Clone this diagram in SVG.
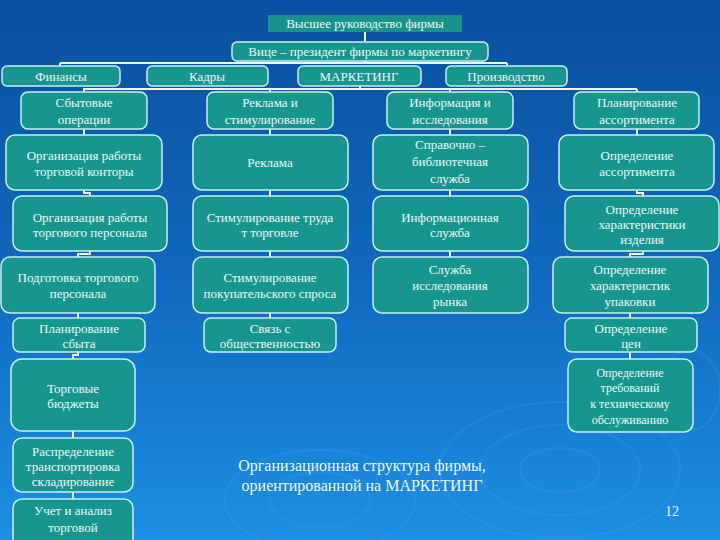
<svg xmlns="http://www.w3.org/2000/svg" width="720" height="540" viewBox="0 0 720 540">
<defs>
<linearGradient id="bg" x1="0" y1="0" x2="0" y2="1">
<stop offset="0" stop-color="#0b4f9f"/>
<stop offset="0.5" stop-color="#1068bd"/>
<stop offset="1" stop-color="#1c90e4"/>
</linearGradient>
<style>
.b{fill:#17958f;stroke:#c8eef2;stroke-width:1.5}
.t{font-family:"Liberation Serif","DejaVu Serif",serif;font-size:13px;fill:#eef8f8;text-anchor:middle}
.s{font-size:12px}
.c{fill:none;stroke:#f2f6fa;stroke-width:2}
.r{fill:none;stroke:#4aa6ea;stroke-width:2;opacity:0.2}
</style>
</defs>
<rect width="720" height="540" fill="url(#bg)"/>
<g id="ripples">
<ellipse class="r" cx="560" cy="470" rx="40" ry="22"/>
<ellipse class="r" cx="560" cy="470" rx="80" ry="45"/>
<ellipse class="r" cx="560" cy="470" rx="120" ry="68"/>
<ellipse class="r" cx="320" cy="500" rx="50" ry="28"/>
<ellipse class="r" cx="320" cy="500" rx="95" ry="50"/>
<ellipse class="r" cx="690" cy="390" rx="30" ry="40"/>
</g>
<g id="connectors">
<path class="c" d="M365 32V63M60 63H507M60 63V66M507 63V66M360 86V89M83 89H637"/>
<path class="c" d="M84 89V92M84 129V135M84 190V193H90V196M90 251V254H78V257M78 313V318M78 352V355H73V359M73 431V438M73 492V499"/>
<path class="c" d="M270 89V92M270 129V135M270 190V196M270 251V257M270 313V318"/>
<path class="c" d="M450 89V92M450 129V135M450 190V196M450 251V257"/>
<path class="c" d="M637 89V92M637 129V135M637 190V193H643V196M643 251V254H630V257M630 313V318M630 352V359"/>
</g>
<g id="top"><rect x="268" y="15" width="194" height="17" fill="#17928c"/><text class="t" x="365" y="28">Высшее руководство фирмы</text></g>
<g id="vp"><rect class="b" x="232" y="42" width="256" height="19" rx="5"/><text class="t" x="360" y="56">Вице – президент фирмы по маркетингу</text></g>
<g id="fin"><rect class="b" x="2" y="66" width="118" height="20" rx="5"/><text class="t" x="61" y="81">Финансы</text></g>
<g id="kadry"><rect class="b" x="147" y="66" width="121" height="20" rx="5"/><text class="t" x="207" y="81">Кадры</text></g>
<g id="mkt"><rect class="b" x="298" y="66" width="123" height="20" rx="5"/><text class="t" x="359" y="81">МАРКЕТИНГ</text></g>
<g id="prod"><rect class="b" x="446" y="66" width="121" height="20" rx="5"/><text class="t" x="506" y="81">Производство</text></g>

<g id="sbyt"><rect class="b" x="21" y="92" width="126" height="37" rx="7"/><text class="t" x="84" y="107">Сбытовые</text><text class="t" x="84" y="124">операции</text></g>
<g id="rekl-st"><rect class="b" x="207" y="92" width="126" height="37" rx="7"/><text class="t" x="270" y="107">Реклама и</text><text class="t" x="270" y="124">стимулирование</text></g>
<g id="info-res"><rect class="b" x="387" y="92" width="126" height="37" rx="7"/><text class="t" x="450" y="107">Информация и</text><text class="t" x="450" y="124">исследования</text></g>
<g id="plan-as"><rect class="b" x="574" y="92" width="125" height="37" rx="7"/><text class="t" x="637" y="107">Планирование</text><text class="t" x="637" y="124">ассортимента</text></g>

<g id="org-kont"><rect class="b" x="6" y="135" width="156" height="55" rx="9"/><text class="t" x="84" y="160">Организация работы</text><text class="t" x="84" y="176">торговой конторы</text></g>
<g id="rekl"><rect class="b" x="193" y="135" width="155" height="55" rx="9"/><text class="t" x="270" y="167">Реклама</text></g>
<g id="sprav"><rect class="b" x="373" y="135" width="155" height="55" rx="9"/><text class="t" x="450" y="149">Справочно –</text><text class="t" x="450" y="166">библиотечная</text><text class="t" x="450" y="183">служба</text></g>
<g id="opr-as"><rect class="b" x="559" y="135" width="155" height="55" rx="9"/><text class="t" x="637" y="160">Определение</text><text class="t" x="637" y="176">ассортимента</text></g>

<g id="org-pers"><rect class="b" x="13" y="196" width="154" height="55" rx="9"/><text class="t" x="90" y="222">Организация работы</text><text class="t" x="90" y="237">торгового персонала</text></g>
<g id="stim-tr"><rect class="b" x="193" y="196" width="155" height="55" rx="9"/><text class="t" x="270" y="222">Стимулирование труда</text><text class="t" x="270" y="237">т торговле</text></g>
<g id="info-sl"><rect class="b" x="373" y="196" width="155" height="55" rx="9"/><text class="t" x="450" y="222">Информационная</text><text class="t" x="450" y="237">служба</text></g>
<g id="har-izd"><rect class="b" x="565" y="196" width="154" height="55" rx="9"/><text class="t" x="642" y="214">Определение</text><text class="t" x="642" y="229">характеристики</text><text class="t" x="642" y="244">изделия</text></g>

<g id="podg"><rect class="b" x="1" y="257" width="154" height="56" rx="9"/><text class="t" x="78" y="282">Подготовка торгового</text><text class="t" x="78" y="298">персонала</text></g>
<g id="stim-sp"><rect class="b" x="193" y="257" width="155" height="56" rx="9"/><text class="t" x="270" y="282">Стимулирование</text><text class="t" x="270" y="298">покупательского спроса</text></g>
<g id="sl-isl"><rect class="b" x="373" y="257" width="155" height="56" rx="9"/><text class="t" x="450" y="274">Служба</text><text class="t" x="450" y="290">исследования</text><text class="t" x="450" y="306">рынка</text></g>
<g id="har-up"><rect class="b" x="553" y="257" width="155" height="56" rx="9"/><text class="t" x="630" y="274">Определение</text><text class="t" x="630" y="290">характеристик</text><text class="t" x="630" y="306">упаковки</text></g>

<g id="plan-sb"><rect class="b" x="13" y="318" width="132" height="34" rx="7"/><text class="t" x="79" y="333">Планирование</text><text class="t" x="79" y="348">сбыта</text></g>
<g id="svyaz"><rect class="b" x="204" y="318" width="132" height="34" rx="7"/><text class="t" x="270" y="333">Связь с</text><text class="t" x="270" y="348">общественностью</text></g>
<g id="ceny"><rect class="b" x="565" y="318" width="132" height="34" rx="7"/><text class="t" x="631" y="333">Определение</text><text class="t" x="631" y="348">цен</text></g>

<g id="budg"><rect class="b" x="11" y="359" width="124" height="72" rx="11"/><text class="t" x="73" y="393">Торговые</text><text class="t" x="73" y="408">бюджеты</text></g>
<g id="raspr"><rect class="b" x="13" y="438" width="120" height="54" rx="9"/><text class="t" x="73" y="456">Распределение</text><text class="t" x="73" y="471">транспортировка</text><text class="t" x="73" y="486">складирование</text></g>
<g id="uchet"><rect class="b" x="13" y="499" width="120" height="60" rx="9"/><text class="t" x="73" y="515">Учет и анализ</text><text class="t" x="73" y="532">торговой</text></g>
<g id="treb"><rect class="b" x="568" y="359" width="125" height="73" rx="9"/><text class="t s" x="630" y="377">Определение</text><text class="t s" x="630" y="392">требований</text><text class="t s" x="630" y="408">к техническому</text><text class="t s" x="630" y="424">обслуживанию</text></g>

<g id="caption"><text class="t" style="font-size:16px" x="362" y="471">Организационная структура фирмы,</text><text class="t" style="font-size:16px" x="362" y="491">ориентированной на МАРКЕТИНГ</text></g>
<text class="t" style="font-size:14px" x="672" y="516">12</text>
</svg>
